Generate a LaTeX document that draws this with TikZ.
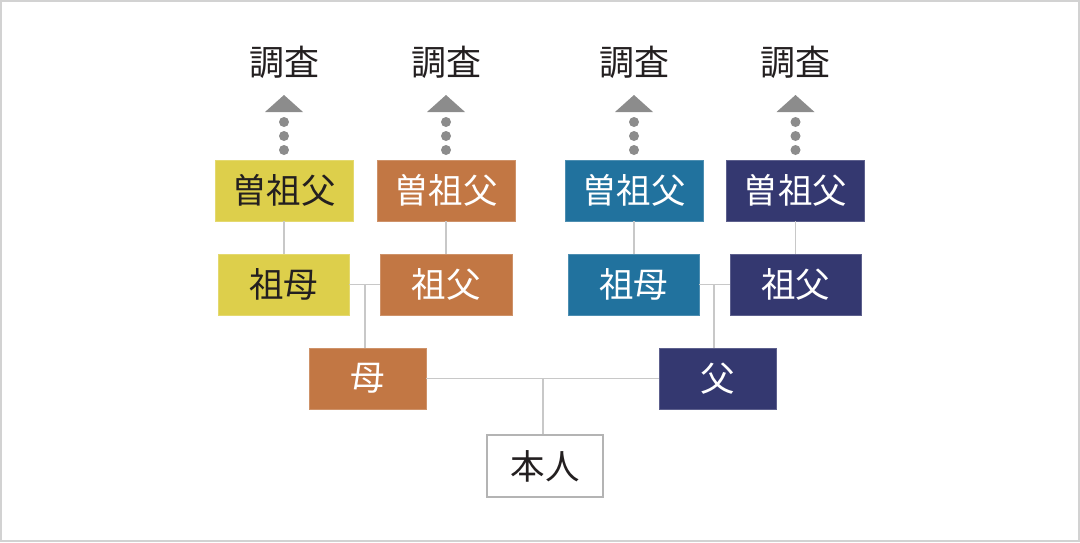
\documentclass[tikz,border=0pt]{standalone}
\usepackage{fontspec}
\newfontfamily\cjk{Noto Sans CJK JP}
\definecolor{cyel}{HTML}{DDCF4B}
\definecolor{cora}{HTML}{C27744}
\definecolor{cblu}{HTML}{21729E}
\definecolor{cnav}{HTML}{343870}
\definecolor{cline}{HTML}{C8C8C8}
\definecolor{carr}{HTML}{8C8C8C}
\definecolor{ctxt}{HTML}{231F20}
\definecolor{cframe}{HTML}{D2D2D2}
\tikzset{
  box/.style={rectangle, inner sep=0pt, minimum height=61pt, font=\cjk\fontsize{34.5}{38}\selectfont, line width=0.8pt},
  ybox/.style={box, fill=cyel, draw=cyel!80!white, text=ctxt},
  obox/.style={box, fill=cora, draw=cora!80!white, text=white},
  bbox/.style={box, fill=cblu, draw=cblu!80!white, text=white},
  nbox/.style={box, fill=cnav, draw=cnav!80!white, text=white},
  wbox/.style={box, fill=white, draw=cline!90!black, line width=1.2pt, text=ctxt},
  conn/.style={draw=cline, line width=1.3pt},
  dot/.style={circle, fill=carr, inner sep=0pt, minimum size=10pt},
  lab/.style={font=\cjk\fontsize{35}{38}\selectfont, text=ctxt, inner sep=0pt}
}
\begin{document}
\begin{tikzpicture}[x=1pt,y=-1pt]
\useasboundingbox (0,0) rectangle (1080,542);
\draw[cframe, line width=2pt] (1,1) rectangle (1079,541);

% great-grandfathers
\node[ybox, minimum width=138pt] (g1) at (284,190.5) {曽祖父};
\node[obox, minimum width=138pt] (g2) at (446,190.5) {曽祖父};
\node[bbox, minimum width=138pt] (g3) at (634,190.5) {曽祖父};
\node[nbox, minimum width=138pt] (g4) at (795.5,190.5) {曽祖父};

% grandparents
\node[ybox, minimum width=131pt] (p1) at (283.5,284.5) {祖母};
\node[obox, minimum width=132pt] (p2) at (446,284.5) {祖父};
\node[bbox, minimum width=131pt] (p3) at (633.5,284.5) {祖母};
\node[nbox, minimum width=131pt] (p4) at (795.5,284.5) {祖父};

% parents
\node[obox, minimum width=117pt] (mo) at (367.5,378.5) {母};
\node[nbox, minimum width=117pt] (fa) at (717.5,378.5) {父};

% self
\node[wbox, minimum width=116pt, minimum height=62pt] (me) at (545,466) {本人};

% connectors
\foreach \g/\p in {g1/p1, g2/p2, g3/p3, g4/p4}{
  \draw[conn] (\g.south) -- (\g.south |- \p.north);
}
\coordinate (j1) at (365,284.5);
\coordinate (j2) at (714,284.5);
\coordinate (j3) at (543,378.5);
\draw[conn] (p1.east) -- (p2.west);
\draw[conn] (p3.east) -- (p4.west);
\draw[conn] (j1) -- (j1 |- mo.north);
\draw[conn] (j2) -- (j2 |- fa.north);
\draw[conn] (mo.east) -- (fa.west);
\draw[conn] (j3) -- (j3 |- me.north);

% arrows and labels
\foreach \n/\x in {a1/284, a2/446, a3/634, a4/795.5}{
  \node[dot] at (\x,150) {};
  \node[dot] at (\x,136) {};
  \node[dot] at (\x,122) {};
  \fill[carr] (\x-19,112) -- (\x,95) -- (\x+19,112) -- cycle;
  \node[lab] (\n) at (\x,62) {調査};
}
\end{tikzpicture}
\end{document}
